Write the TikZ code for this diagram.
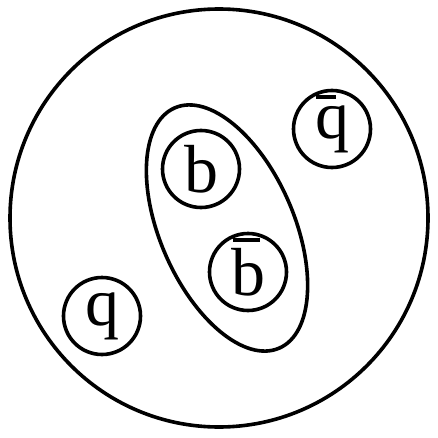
\documentclass[tikz,border=0pt]{standalone}
\usepackage{fontspec}
\setmainfont{Liberation Serif}
\usepackage{tikz}
% letter with a bar: #2 = shift, #3 = height of the bar, #4 = its length
\newcommand{\anti}[4]{\smash{\makebox[0pt][l]{\hspace*{#2}\rule[#3]{#4}{4pt}}}#1}
\tikzset{
  quark/.style={circle, draw, line width=3.6pt, minimum size=77pt, inner sep=0pt, font=\fontsize{68}{68}\selectfont},
  wall/.style={draw, line width=3.6pt}}
\begin{document}
\begin{tikzpicture}[x=1pt, y=1pt]
  \useasboundingbox (0,0) rectangle (438,437);
  % outer bag and the bound pair
  \draw[wall] (219,219) circle (209);
  \draw[wall, rotate around={-66.5:(227,209)}] (227,209) ellipse (131 and 67);
  % quarks
  \node[quark] (b) at (201,268) {b};
  \node[quark] (bbar) at (248,165) {\anti{b}{2pt}{53pt}{27pt}};
  \node[quark] (qbar) at (332,308) {\anti{q}{1pt}{39pt}{20pt}};
  \node[quark] (q) at (102,121) {q};
\end{tikzpicture}
\end{document}
